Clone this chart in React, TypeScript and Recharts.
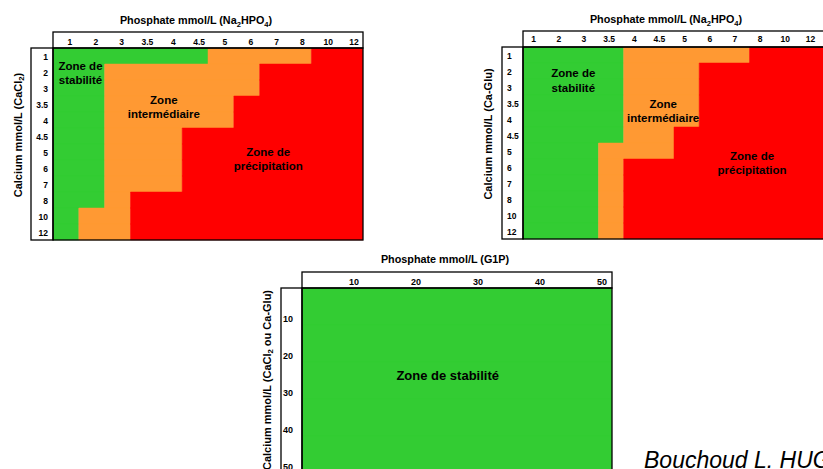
import React from 'react';
import { BarChart, Bar, XAxis, YAxis, ReferenceDot } from 'recharts';

// ---------- data ----------
const naPhosphateLabels = ['1', '2', '3', '3.5', '4', '4.5', '5', '6', '7', '8', '10', '12'];
const calciumLevels = ['1', '2', '3', '3.5', '4', '4.5', '5', '6', '7', '8', '10', '12'];

// number of phosphate columns in each zone, per calcium row (CaCl2)
const cacl2Stable = [6, 2, 2, 2, 2, 2, 2, 2, 2, 2, 1, 1];
const cacl2Intermediate = [4, 6, 6, 5, 5, 3, 3, 3, 3, 1, 2, 2];
const cacl2Precipitation = [2, 4, 4, 5, 5, 7, 7, 7, 7, 9, 9, 9];

// Ca-Glu
const caGluStable = [4, 4, 4, 4, 4, 4, 3, 3, 3, 3, 3, 3];
const caGluIntermediate = [5, 3, 3, 3, 3, 2, 3, 1, 1, 1, 1, 1];
const caGluPrecipitation = [3, 5, 5, 5, 5, 6, 6, 8, 8, 8, 8, 8];

// G1P
const g1pPhosphateLabels = ['10', '20', '30', '40', '50'];
const g1pCalciumLevels = ['10', '20', '30', '40', '50'];
const g1pStable = [5, 5, 5, 5, 5];
const g1pIntermediate = [0, 0, 0, 0, 0];
const g1pPrecipitation = [0, 0, 0, 0, 0];

// ---------- styles ----------
const GREEN = '#33CC33';
const ORANGE = '#FF9933';
const RED = '#FF0000';
const FONT = '"Liberation Sans", Arial, Helvetica, sans-serif';

type Layout = {
  left: number; top: number; width: number; height: number;
  headerTop: number; bandLeft: number; plotLeft: number; plotTop: number;
  plotWidth: number; plotHeight: number;
};

const PANEL_A: Layout = { left: 0, top: 0, width: 372, height: 250, headerTop: 32, bandLeft: 31, plotLeft: 53, plotTop: 48, plotWidth: 310, plotHeight: 192 };
const PANEL_B: Layout = { left: 470, top: 0, width: 362, height: 250, headerTop: 31, bandLeft: 502, plotLeft: 523, plotTop: 47, plotWidth: 302, plotHeight: 192 };
const PANEL_C: Layout = { left: 240, top: 245, width: 380, height: 240, headerTop: 272, bandLeft: 281, plotLeft: 302, plotTop: 288, plotWidth: 310, plotHeight: 185 };

type TickStyle = { anchor: 'start' | 'middle' | 'end'; dx: number; dy: number; fontSize: number };

const cacl2Zones = [
  { lines: ['Zone de', 'stabilité'], x: 1.065, row: '2', dys: [-6, 8] },
  { lines: ['Zone', 'intermédiaire'], x: 4.29, row: '3.5', dys: [-4, 10] },
  { lines: ['Zone de', 'précipitation'], x: 8.33, row: '5', dys: [0, 13.5] },
];
const caGluZones = [
  { lines: ['Zone de', 'stabilité'], x: 2.0, row: '2', dys: [2, 17] },
  { lines: ['Zone', 'intermédiaire'], x: 5.57, row: '3.5', dys: [1, 15] },
  { lines: ['Zone de', 'précipitation'], x: 9.1, row: '5', dys: [5, 19] },
];
const g1pZones = [
  { lines: ['Zone de stabilité'], x: 2.35, row: '30', dys: [-5.5] },
];

function buildRows(levels: string[], s: number[], i: number[], p: number[]) {
  return levels.map((row, k) => ({ row, stable: s[k], intermediate: i[k], precipitation: p[k] }));
}

const cacl2Rows = buildRows(calciumLevels, cacl2Stable, cacl2Intermediate, cacl2Precipitation);
const caGluRows = buildRows(calciumLevels, caGluStable, caGluIntermediate, caGluPrecipitation);
const g1pRows = buildRows(g1pCalciumLevels, g1pStable, g1pIntermediate, g1pPrecipitation);

function HeatPanel(props: {
  layout: Layout; columns: string[]; rows: any[]; xTick: TickStyle; yTick: TickStyle;
  zones: { lines: string[]; x: number; row: string; dys: number[] }[]; zoneFont: number;
}) {
  const { layout: L, columns, rows, xTick, yTick, zones, zoneFont } = props;
  const margin = {
    top: L.headerTop - L.top,
    left: L.bandLeft - L.left,
    right: L.width - (L.plotLeft - L.left) - L.plotWidth,
    bottom: L.height - (L.plotTop - L.top) - L.plotHeight,
  };
  const plotTopLocal = L.plotTop - L.top;
  const plotLeftLocal = L.plotLeft - L.left;
  const n = columns.length;
  return (
    <div style={{ position: 'absolute', left: L.left, top: L.top, width: L.width, height: L.height }}>
      <BarChart width={L.width} height={L.height} data={rows} layout="vertical" margin={margin} barCategoryGap={0} barGap={0}>
        <XAxis
          type="number"
          orientation="top"
          domain={[0, n]}
          allowDataOverflow
          ticks={columns.map((_, i) => i + 0.5)}
          interval={0}
          height={L.plotTop - L.headerTop}
          axisLine={false}
          tickLine={false}
          tickSize={0}
          tickMargin={0}
          tick={(p: any) => (
            <text x={p.x + xTick.dx} y={plotTopLocal + xTick.dy} textAnchor={xTick.anchor} fontSize={xTick.fontSize} fontWeight="bold" fontFamily={FONT} fill="#000">
              {columns[Math.round(p.payload.value - 0.5)]}
            </text>
          )}
        />
        <YAxis
          type="category"
          dataKey="row"
          width={L.plotLeft - L.bandLeft}
          interval={0}
          axisLine={false}
          tickLine={false}
          tickSize={0}
          tickMargin={0}
          tick={(p: any) => (
            <text x={plotLeftLocal + yTick.dx} y={p.y + yTick.dy} textAnchor={yTick.anchor} fontSize={yTick.fontSize} fontWeight="bold" fontFamily={FONT} fill="#000">
              {p.payload.value}
            </text>
          )}
        />
        <Bar dataKey="stable" stackId="zone" fill={GREEN} stroke={GREEN} strokeWidth={0.5} isAnimationActive={false} />
        <Bar dataKey="intermediate" stackId="zone" fill={ORANGE} stroke={ORANGE} strokeWidth={0.5} isAnimationActive={false} />
        <Bar dataKey="precipitation" stackId="zone" fill={RED} stroke={RED} strokeWidth={0.5} isAnimationActive={false} />
        {zones.map((z, k) => (
          <ReferenceDot
            key={k}
            x={z.x}
            y={z.row}
            r={0}
            fill="none"
            stroke="none"
            ifOverflow="visible"
            label={(lp: any) => {
              const vb = lp.viewBox || {};
              const cx = (vb.x ?? 0) + (vb.width ?? 0) / 2;
              const cy = (vb.y ?? 0) + (vb.height ?? 0) / 2;
              return (
                <text textAnchor="middle" fontSize={zoneFont} fontWeight="bold" fontFamily={FONT} fill="#000">
                  {z.lines.map((line, j) => (
                    <tspan key={j} x={cx} y={cy + z.dys[j]} dominantBaseline="central">{line}</tspan>
                  ))}
                </text>
              );
            }}
          />
        ))}
      </BarChart>
    </div>
  );
}

function Frame({ L }: { L: Layout }) {
  const s = { fill: 'none', stroke: '#000', strokeWidth: 1.3 };
  return (
    <g>
      <rect x={L.plotLeft} y={L.headerTop} width={L.plotWidth} height={L.plotTop - L.headerTop} {...s} />
      <rect x={L.bandLeft} y={L.plotTop} width={L.plotLeft - L.bandLeft} height={L.plotHeight} {...s} />
      <rect x={L.plotLeft} y={L.plotTop} width={L.plotWidth} height={L.plotHeight} {...s} />
    </g>
  );
}

function SubTitle({ x, y, parts, size, rotate }: { x: number; y: number; parts: [string, boolean][]; size: number; rotate?: boolean }) {
  const transform = rotate ? `translate(${x},${y}) rotate(-90)` : `translate(${x},${y})`;
  return (
    <text transform={transform} textAnchor="middle" fontSize={size} fontWeight="bold" fontFamily={FONT} fill="#000" dominantBaseline={rotate ? 'central' : undefined}>
      {parts.map(([t, sub], i) => {
        const prevSub = i > 0 && parts[i - 1][1];
        const dy = sub ? size * 0.28 : prevSub ? -size * 0.28 : 0;
        return (
          <tspan key={i} dy={dy} fontSize={sub ? size * 0.7 : size}>{t}</tspan>
        );
      })}
    </text>
  );
}

export default function App() {
  return (
    <div style={{ position: 'absolute', left: 0, top: 0, width: 823, height: 469, overflow: 'hidden', background: '#fff', fontFamily: FONT }}>
      <HeatPanel layout={PANEL_A} columns={naPhosphateLabels} rows={cacl2Rows}
        xTick={{ anchor: 'middle', dx: 4, dy: -3, fontSize: 8.5 }}
        yTick={{ anchor: 'end', dx: -5, dy: 3.5, fontSize: 8.5 }}
        zones={cacl2Zones} zoneFont={11.5} />
      <HeatPanel layout={PANEL_B} columns={naPhosphateLabels} rows={caGluRows}
        xTick={{ anchor: 'middle', dx: -2, dy: -5, fontSize: 8.5 }}
        yTick={{ anchor: 'start', dx: -16, dy: 3.5, fontSize: 8.5 }}
        zones={caGluZones} zoneFont={11.5} />
      <HeatPanel layout={PANEL_C} columns={g1pPhosphateLabels} rows={g1pRows}
        xTick={{ anchor: 'end', dx: 26, dy: -3.5, fontSize: 9 }}
        yTick={{ anchor: 'start', dx: -19, dy: 15.5, fontSize: 9 }}
        zones={g1pZones} zoneFont={13} />
      <svg width={823} height={469} style={{ position: 'absolute', left: 0, top: 0, pointerEvents: 'none' }}>
        <Frame L={PANEL_A} />
        <Frame L={PANEL_B} />
        <Frame L={PANEL_C} />
        <SubTitle x={196} y={24} size={10.8} parts={[['Phosphate mmol/L (Na', false], ['2', true], ['HPO', false], ['4', true], [')', false]]} />
        <SubTitle x={666} y={23} size={10.8} parts={[['Phosphate mmol/L (Na', false], ['2', true], ['HPO', false], ['4', true], [')', false]]} />
        <SubTitle x={445} y={262.5} size={10.8} parts={[['Phosphate mmol/L (G1P)', false]]} />
        <SubTitle x={18} y={135} size={11} rotate parts={[['Calcium mmol/L (CaCl', false], ['2', true], [')', false]]} />
        <SubTitle x={488} y={134} size={11} rotate parts={[['Calcium mmol/L (Ca-Glu)', false]]} />
        <SubTitle x={267} y={380} size={11} rotate parts={[['Calcium mmol/L (CaCl', false], ['2', true], [' ou Ca-Glu)', false]]} />
        <text x={644} y={468} fontSize={23} fontStyle="italic" fontFamily={FONT} fill="#000">Bouchoud L. HUG</text>
      </svg>
    </div>
  );
}
